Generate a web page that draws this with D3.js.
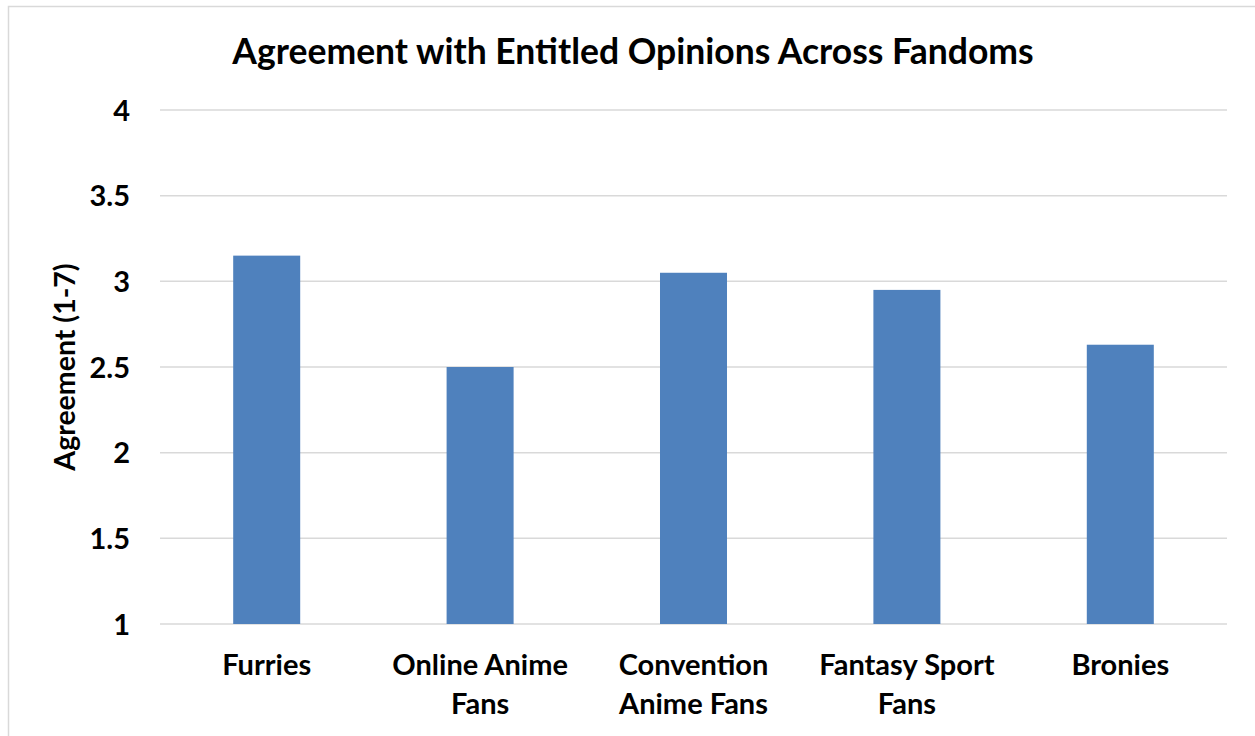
<!DOCTYPE html>
<html>
<head>
<meta charset="utf-8">
<script src="https://cdn.jsdelivr.net/npm/d3@7"></script>
<style>
  html, body { margin: 0; padding: 0; background: #fff; }
  svg { display: block; }
  text { font-family: Lato, "Open Sans", sans-serif; font-weight: bold; fill: #000; }
</style>
</head>
<body>
<svg id="chart" width="1255" height="736"></svg>
<script>
// Fandom groups and their mean agreement scores
const categories = [["Furries"], ["Online Anime", "Fans"], ["Convention", "Anime Fans"], ["Fantasy Sport", "Fans"], ["Bronies"]];
const values = [3.15, 2.5, 3.05, 2.95, 2.63];
const yTicks = [1, 1.5, 2, 2.5, 3, 3.5, 4];
const titleText = "Agreement with Entitled Opinions Across Fandoms";
const yLabel = "Agreement (1-7)";

const svg = d3.select("#chart");
const W = 1255, H = 736;
const m = { left: 160, right: 28, top: 110, bottom: 112 };

// outer chart frame
svg.append("rect")
  .attr("x", 8.5).attr("y", 6.5)
  .attr("width", W + 10).attr("height", H + 10)
  .attr("fill", "none").attr("stroke", "#d9d9d9").attr("stroke-width", 1.5);

const x = d3.scaleBand()
  .domain(categories.map((d, i) => i))
  .range([m.left, W - m.right])
  .paddingInner(0.686).paddingOuter(0.343);

const y = d3.scaleLinear().domain([1, 4]).range([H - m.bottom, m.top]);

// gridlines
svg.append("g").selectAll("line").data(yTicks).join("line")
  .attr("x1", m.left).attr("x2", W - m.right)
  .attr("y1", d => y(d)).attr("y2", d => y(d))
  .attr("stroke", "#d9d9d9").attr("stroke-width", 1.5);

// y tick labels
const yAxis = d3.axisLeft(y).tickValues(yTicks).tickSize(0).tickPadding(30).tickFormat(d3.format("~g"));
const ya = svg.append("g").attr("transform", `translate(${m.left},0)`).call(yAxis);
ya.select(".domain").remove();
ya.selectAll("text").style("font-size", "29px").style("font-family", null).attr("dy", "0.35em");

// bars
svg.append("g").selectAll("rect").data(values).join("rect")
  .attr("x", (d, i) => x(i))
  .attr("width", x.bandwidth())
  .attr("y", d => y(d))
  .attr("height", d => y(1) - y(d))
  .attr("fill", "#4f81bd");

// category labels
const xl = svg.append("g").selectAll("text").data(categories).join("text")
  .attr("text-anchor", "middle")
  .style("font-size", "29px")
  .attr("x", (d, i) => x(i) + x.bandwidth() / 2)
  .attr("y", 675);
xl.selectAll("tspan").data(d => d).join("tspan")
  .attr("x", function() { return this.parentNode.getAttribute("x"); })
  .attr("dy", (d, i) => i === 0 ? 0 : 39)
  .text(d => d);

// title
svg.append("text")
  .attr("x", 633).attr("y", 64)
  .attr("text-anchor", "middle")
  .style("font-size", "35.5px")
  .text(titleText);

// y-axis title
svg.append("text")
  .attr("transform", `translate(75,367) rotate(-90)`)
  .attr("text-anchor", "middle")
  .style("font-size", "28.5px")
  .text(yLabel);
</script>
</body>
</html>
